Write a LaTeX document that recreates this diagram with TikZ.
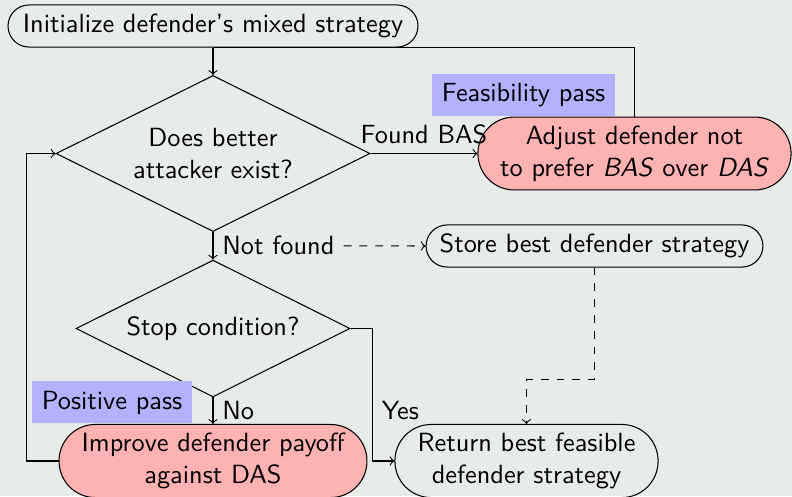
\documentclass[tikz,border=0pt]{standalone}
\usepackage{fontspec}
\usetikzlibrary{shapes.geometric}
\definecolor{canvas}{RGB}{232,236,232}
\begin{document}
\begin{tikzpicture}[
  x=0.38pt, y=-0.38pt,
  every node/.style={font=\sffamily},
  terminal/.style={draw, rectangle, rounded corners=8pt, minimum height=16pt, align=center},
  tallterminal/.style={draw, rectangle, rounded corners=13.8pt, minimum height=27.7pt, align=center},
  action/.style={tallterminal, fill=red!30},
  decision/.style={draw, diamond, aspect=2, inner sep=0pt, align=center},
  passlabel/.style={fill=blue!30, minimum height=16pt, anchor=south},
  flow/.style={->},
  hint/.style={->, dashed}
]
  % canvas
  \fill[canvas] (0,0) rectangle (792,496);
  \useasboundingbox (0,0) rectangle (792,496);

  % steps
  \node[terminal, minimum width=155.8pt] (init) at (213,26) {Initialize defender's mixed strategy};
  \node[decision, minimum width=119.3pt, minimum height=59.3pt] (better) at (213,153.5) {Does better\\attacker exist?};
  \node[action, minimum width=119pt] (adjust) at (634.5,153.5) {Adjust defender not\\to prefer \emph{BAS} over \emph{DAS}};
  \node[decision, minimum width=104.1pt, minimum height=52pt] (stop) at (213,328.5) {Stop condition?};
  \node[terminal, minimum width=128pt] (store) at (594.5,246) {Store best defender strategy};
  \node[action, minimum width=117pt] (improve) at (213,461) {Improve defender payoff\\against DAS};
  \node[tallterminal, minimum width=100pt] (return) at (526.5,461) {Return best feasible\\defender strategy};

  % pass labels
  \node[passlabel, minimum width=69.5pt] (feaslabel) at (523.5,116.5) {Feasibility pass};
  \node[passlabel, minimum width=60.8pt] (poslabel) at (112,424) {Positive pass};

  % connectors
  \draw[flow] (init.south) -- (better.north);
  \draw[flow] (better.east) -- node[above] (foundlbl) {Found BAS} (adjust.west);
  \draw (adjust.north) |- (init.south);
  \draw[flow] (better.south) -- node[right] (notfound) {Not found} (stop.north);
  \draw[hint] (notfound.east) -- (store.west);
  \draw[hint] (store.south) -- ++(0,112) -| (return.north);
  \draw[flow] (stop.south) -- node[right] (nolbl) {No} (improve.north);
  \draw[flow] (stop.east) -- ++(22,0) |- node[pos=0.31, right] (yeslbl) {Yes} (return.west);
  \draw[flow] (improve.west) -- ++(-32,0) |- (better.west);
\end{tikzpicture}
\end{document}
